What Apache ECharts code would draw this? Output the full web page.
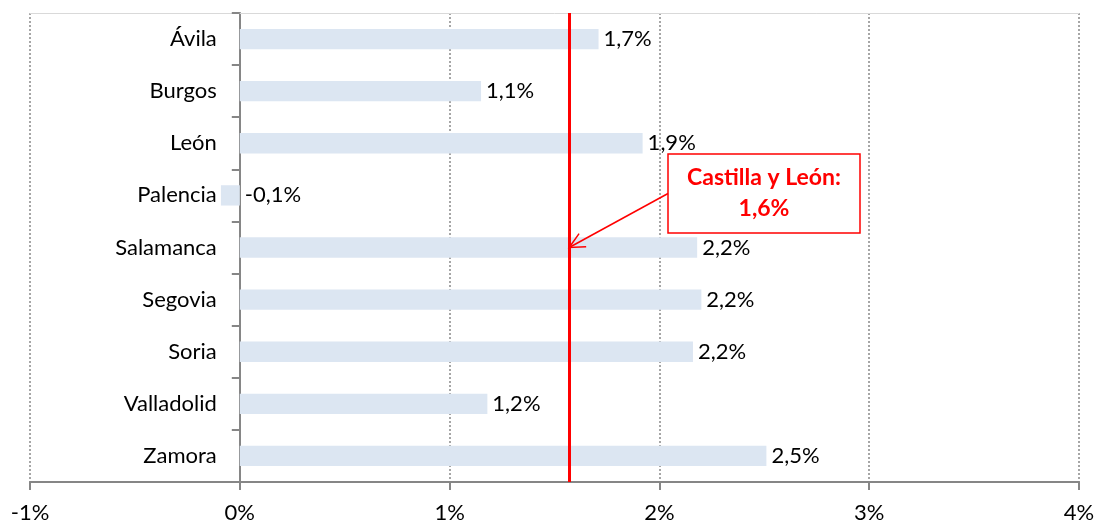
<!DOCTYPE html>
<html>
<head>
<meta charset="utf-8">
<script src="https://cdn.jsdelivr.net/npm/echarts@6/dist/echarts.min.js"></script>
<style>
html,body{margin:0;padding:0;background:#fff;}
#main{width:1097px;height:523px;}
</style>
</head>
<body>
<div id="main"></div>
<script>
// datos
var provincias = ['Ávila', 'Burgos', 'León', 'Palencia', 'Salamanca', 'Segovia', 'Soria', 'Valladolid', 'Zamora'];
var variacion = [1.71, 1.15, 1.92, -0.09, 2.18, 2.20, 2.16, 1.18, 2.51];
var mediaCyL = 1.57;
var mediaTexto = ['Castilla y León:', '1,6%'];

var fuente = 'Lato';
var dom = document.getElementById('main');
var myChart = echarts.init(dom);

var gLeft = 30, gRight = 18;
// el eje de categorías va sobre el 0%
var ejeOffset = -(1097 - gLeft - gRight) / 5;

var option = {
    animation: false,
    grid: {
        left: gLeft,
        right: gRight,
        top: 13,
        bottom: 41,
        containLabel: false,
        outerBoundsMode: 'none'
    },
    xAxis: [
        {
            type: 'value',
            min: -1,
            max: 4,
            interval: 1,
            axisLine: { show: true, onZero: false, lineStyle: { color: '#868686', width: 2 } },
            axisTick: { show: true, length: 8, lineStyle: { color: '#868686', width: 2 } },
            axisLabel: {
                color: '#000',
                fontFamily: fuente,
                fontSize: 22,
                margin: 20,
                formatter: function (v) { return v + '%'; }
            },
            splitLine: { show: true, lineStyle: { color: '#a6a6a6', type: [2, 2], width: 2 } }
        },
        {
            type: 'value',
            position: 'top',
            min: -1,
            max: 4,
            axisLine: { show: true, lineStyle: { color: '#d9d9d9', width: 1 } },
            axisTick: { show: false },
            axisLabel: { show: false },
            splitLine: { show: false }
        }
    ],
    yAxis: {
        type: 'category',
        inverse: true,
        data: provincias,
        offset: ejeOffset,
        axisLine: { show: true, onZero: false, lineStyle: { color: '#868686', width: 2 } },
        axisTick: { show: true, length: 8, lineStyle: { color: '#868686', width: 2 } },
        axisLabel: {
            color: '#000',
            fontFamily: fuente,
            fontSize: 22,
            margin: 23
        }
    },
    series: [
        {
            type: 'bar',
            data: variacion,
            barCategoryGap: '61%',
            itemStyle: { color: '#dce6f2' },
            label: {
                show: true,
                position: 'right',
                distance: 5,
                color: '#000',
                fontFamily: fuente,
                fontSize: 22,
                formatter: function (p) { return p.value.toFixed(1).replace('.', ',') + '%'; }
            },
            markLine: {
                silent: true,
                symbol: 'none',
                label: { show: false },
                lineStyle: { color: '#ff0000', width: 3, type: 'solid' },
                data: [{ xAxis: mediaCyL }]
            }
        }
    ]
};
myChart.setOption(option, true);

// recuadro con la media regional
var pA = myChart.convertToPixel({ xAxisIndex: 0, yAxisIndex: 0 }, [mediaCyL, 3.65]);
var px = pA[0];
var py = pA[1];
var bx = 668, by = 154, bw = 192, bh = 79;
var ang = Math.atan2(py - (by + bh / 2), px - bx);
var hl = 17;
myChart.setOption({
    graphic: [
        {
            type: 'rect',
            shape: { x: bx, y: by, width: bw, height: bh },
            style: { fill: '#fff', stroke: '#ff0000', lineWidth: 1.5 },
            z: 100
        },
        {
            type: 'text',
            x: bx + bw / 2,
            y: by + bh / 2,
            style: {
                text: mediaTexto.join('\n'),
                fill: '#ff0000',
                font: 'bold 23px ' + fuente,
                lineHeight: 31,
                align: 'center',
                verticalAlign: 'middle'
            },
            z: 101
        },
        {
            type: 'polyline',
            shape: { points: [[bx, by + bh / 2], [px, py]] },
            style: { stroke: '#ff0000', lineWidth: 1.5, fill: null },
            z: 101
        },
        {
            type: 'polyline',
            shape: {
                points: [
                    [px - hl * Math.cos(ang - 0.45), py - hl * Math.sin(ang - 0.45)],
                    [px, py],
                    [px - hl * Math.cos(ang + 0.45), py - hl * Math.sin(ang + 0.45)]
                ]
            },
            style: { stroke: '#ff0000', lineWidth: 1.5, fill: null },
            z: 101
        }
    ]
});
</script>
</body>
</html>
